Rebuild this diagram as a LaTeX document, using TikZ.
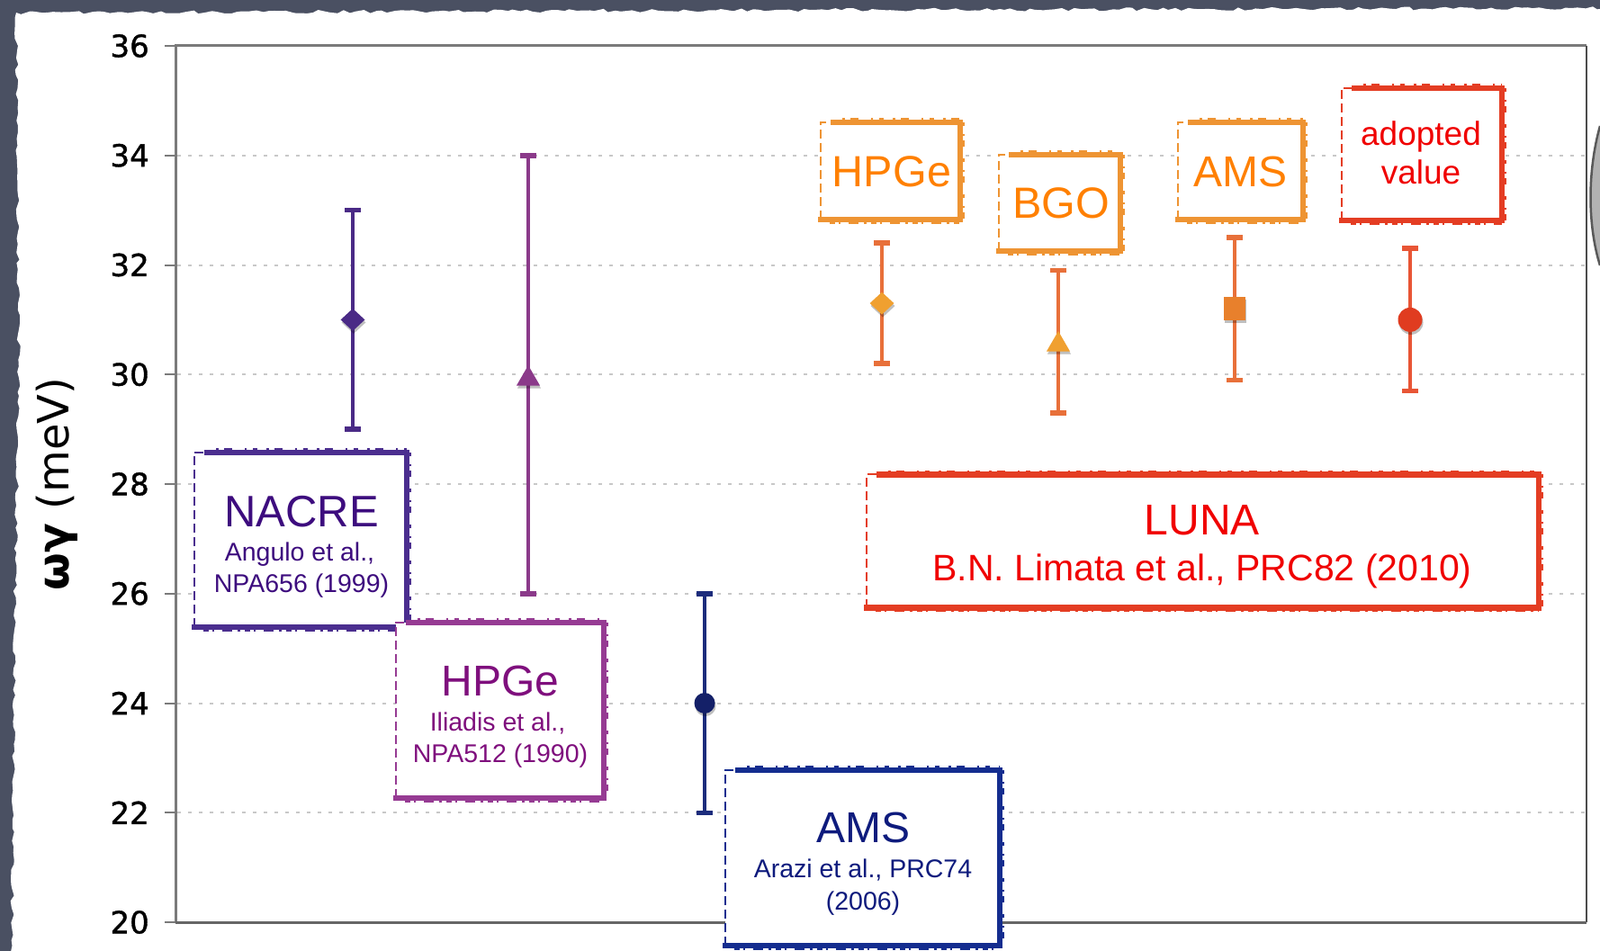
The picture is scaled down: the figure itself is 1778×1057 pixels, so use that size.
\documentclass[tikz,border=0pt]{standalone}
\usepackage{fontspec}
\setmainfont{Liberation Sans}
\newfontfamily\dvs{DejaVu Sans}
\newfontfamily\dvsm[FakeBold=1.2]{DejaVu Sans}
\usetikzlibrary{shapes.geometric,shadows,decorations.pathmorphing}
\definecolor{slate}{HTML}{4A5062}
\definecolor{frameC}{HTML}{7A7A7A}
\definecolor{gridC}{HTML}{C8C8C8}
\definecolor{nacreBox}{HTML}{4B2E8F}
\definecolor{nacreTxt}{HTML}{3D0C7E}
\definecolor{nacreBar}{HTML}{4A2A86}
\definecolor{ilBox}{HTML}{963B93}
\definecolor{ilTxt}{HTML}{7F0F7D}
\definecolor{ilBar}{HTML}{8B3A8A}
\definecolor{azBox}{HTML}{142D8F}
\definecolor{azTxt}{HTML}{0E1B7D}
\definecolor{azBar}{HTML}{1C2C7C}
\definecolor{azMk}{HTML}{142068}
\definecolor{orBox}{HTML}{EE9433}
\definecolor{orTxt}{HTML}{FF8000}
\definecolor{orBar}{HTML}{E8703A}
\definecolor{orMk}{HTML}{F0A030}
\definecolor{orSq}{HTML}{E8802C}
\definecolor{rdBox}{HTML}{E43D23}
\definecolor{rdTxt}{HTML}{F00000}
\definecolor{rdBar}{HTML}{E85535}
\definecolor{rdMk}{HTML}{E03C20}
\newcommand\rbox[2]{%
  \draw[#2, line width=6.5pt, line cap=rect] ([xshift=14pt]#1.north west) -- (#1.north east) -- (#1.south east) -- (#1.south west);
  \draw[#2, line width=2pt, dash pattern=on 10pt off 5pt] (#1.south west) -- (#1.north west) -- ([xshift=14pt]#1.north west);
  \draw[#2, line width=1.5pt, dash pattern=on 3pt off 6pt on 9pt off 14pt on 2pt off 7pt on 5pt off 10pt]
    ([yshift=4pt,xshift=24pt]#1.north west) -- ([yshift=4pt]#1.north east);
  \draw[#2, line width=1.5pt, dash pattern=on 4pt off 9pt on 2pt off 5pt on 7pt off 13pt]
    ([xshift=4pt]#1.north east) -- ([xshift=4pt]#1.south east);
  \draw[#2, line width=1.5pt, dash pattern=on 6pt off 4pt on 2pt off 9pt on 11pt off 6pt on 3pt off 5pt]
    ([yshift=-4pt,xshift=10pt]#1.south west) -- ([yshift=-4pt]#1.south east);
}
\begin{document}
\begin{tikzpicture}[x=1pt,y=-1pt,
  boxn/.style={rectangle, inner sep=0pt, fill=white},
  ebar/.style={line width=3.5pt},
  ecap/.style={line width=5.5pt},
  mk/.style={inner sep=0pt, drop shadow={shadow xshift=1pt, shadow yshift=-3pt, fill=black, opacity=0.25}},
  txt/.style={anchor=base, inner sep=0pt}]
\useasboundingbox (0,0) rectangle (1778,1057);
% background and paper
\fill[slate] (0,0) rectangle (1778,1057);
\fill[white, decorate, decoration={random steps, segment length=7pt, amplitude=2pt}]
  (1800,1080) -- (13,1080) -- (16,700) -- (21,420) -- (18,14) -- (900,11) -- (1800,9) -- cycle;
\fill[black!30] (1778,140) .. controls (1764,190) and (1764,250) .. (1778,295) -- cycle;
\draw[black!65, line width=2.5pt] (1778,140) .. controls (1764,190) and (1764,250) .. (1778,295);
% grid
\foreach \v in {22,24,...,34}{
  \pgfmathsetmacro\yy{51+(36-\v)*60.875}
  \draw[gridC, line width=2pt, dash pattern=on 4pt off 8pt] (197,\yy) -- (1761,\yy);
}
% frame
\draw[frameC, line width=3pt] (195,1025) -- (195,51) -- (1763,51);
\draw[black!70, line width=2.5pt] (1763,51) -- (1763,1025);
\draw[black!60, line width=3pt] (195,1025) -- (1763,1025);
% ticks and labels
\foreach \v in {20,22,...,36}{
  \pgfmathsetmacro\yy{51+(36-\v)*60.875}
  \draw[frameC, line width=2pt] (183,\yy) -- (195,\yy);
  \node[anchor=east, inner sep=0pt, font=\dvsm\fontsize{34}{40}\selectfont] (t\v) at (166,\yy) {\v};
}
\node[rotate=90, inner sep=0pt, font=\dvs\fontsize{48}{58}\selectfont] (ylab) at (63,538) {{\bfseries ωγ} (meV)};
% error bars
% NACRE
\draw[nacreBar, ebar] (392,233.6) -- (392,477.1);
\draw[nacreBar, ecap] (383,233.6) -- (401,233.6);
\draw[nacreBar, ecap] (383,477.1) -- (401,477.1);
\node[mk, diamond, fill=nacreBar, minimum width=27pt, minimum height=25pt] (m1) at (392,355.4) {};
% Iliadis
\draw[ilBar, ebar] (587,172.75) -- (587,659.75);
\draw[ilBar, ecap] (578,172.75) -- (596,172.75);
\draw[ilBar, ecap] (578,659.75) -- (596,659.75);
\node[mk, regular polygon, regular polygon sides=3, fill=ilBar, minimum size=30pt] (m2) at (587,421) {};
% Arazi
\draw[azBar, ebar] (783,659.75) -- (783,903.25);
\draw[azBar, ecap] (774,659.75) -- (792,659.75);
\draw[azBar, ecap] (774,903.25) -- (792,903.25);
\node[mk, circle, fill=azMk, minimum size=23pt] (m3) at (783,781.5) {};
% LUNA HPGe
\draw[orBar, ebar] (980,270.2) -- (980,404.1);
\draw[orBar, ecap] (971,270.2) -- (989,270.2);
\draw[orBar, ecap] (971,404.1) -- (989,404.1);
\node[mk, diamond, fill=orMk, minimum width=27pt, minimum height=25pt] (m4) at (980,337.1) {};
% BGO
\draw[orBar, ebar] (1176,300.6) -- (1176,458.9);
\draw[orBar, ecap] (1167,300.6) -- (1185,300.6);
\draw[orBar, ecap] (1167,458.9) -- (1185,458.9);
\node[mk, regular polygon, regular polygon sides=3, fill=orMk, minimum size=30pt] (m5) at (1176,383) {};
% AMS LUNA
\draw[orBar, ebar] (1372,264.1) -- (1372,422.3);
\draw[orBar, ecap] (1363,264.1) -- (1381,264.1);
\draw[orBar, ecap] (1363,422.3) -- (1381,422.3);
\node[mk, rectangle, fill=orSq, minimum width=24pt, minimum height=26pt] (m6) at (1372,343.2) {};
% adopted
\draw[rdBar, ebar] (1567,276.2) -- (1567,434.5);
\draw[rdBar, ecap] (1558,276.2) -- (1576,276.2);
\draw[rdBar, ecap] (1558,434.5) -- (1576,434.5);
\node[mk, circle, fill=rdMk, minimum size=27pt] (m7) at (1567,355.4) {};
% boxes
\node[boxn, minimum width=236pt, minimum height=194pt] (nacre) at (334,600) {};
\rbox{nacre}{nacreBox}
\node[txt, text=nacreTxt, font=\fontsize{49}{56}\selectfont] (nacreT) at (335,585) {NACRE};
\node[txt, text=nacreTxt, font=\fontsize{28.5}{34}\selectfont] (nacreA) at (333,623) {Angulo et al.,};
\node[txt, text=nacreTxt, font=\fontsize{28.5}{34}\selectfont] (nacreB) at (335,658) {NPA656 (1999)};

\node[boxn, minimum width=231pt, minimum height=195pt] (ilia) at (555.5,789.5) {};
\rbox{ilia}{ilBox}
\node[txt, text=ilTxt, font=\fontsize{48}{56}\selectfont] (iliaT) at (556,773) {HPGe};
\node[txt, text=ilTxt, font=\fontsize{28.5}{34}\selectfont] (iliaA) at (553,812.5) {Iliadis et al.,};
\node[txt, text=ilTxt, font=\fontsize{28.5}{34}\selectfont] (iliaB) at (556,847.5) {NPA512 (1990)};

\node[boxn, minimum width=305pt, minimum height=195pt] (arazi) at (958.5,953.5) {};
\rbox{arazi}{azBox}
\node[txt, text=azTxt, font=\fontsize{48}{56}\selectfont] (araziT) at (959,936) {AMS};
\node[txt, text=azTxt, font=\fontsize{28.5}{34}\selectfont] (araziA) at (959,975) {Arazi et al., PRC74};
\node[txt, text=azTxt, font=\fontsize{28.5}{34}\selectfont] (araziB) at (959,1011) {(2006)};

\node[boxn, minimum width=747pt, minimum height=148pt] (luna) at (1336.5,601.5) {};
\rbox{luna}{rdBox}
\node[txt, text=rdTxt, font=\fontsize{48}{56}\selectfont] (lunaT) at (1336,594) {LUNA};
\node[txt, text=rdTxt, font=\fontsize{41}{48}\selectfont] (lunaA) at (1336,645.5) {B.N. Limata et al., PRC82 (2010)};

\node[boxn, minimum width=155pt, minimum height=108pt] (ohp) at (989.5,190) {};
\rbox{ohp}{orBox}
\node[txt, text=orTxt, font=\fontsize{48.5}{56}\selectfont] (ohpT) at (991,207) {HPGe};

\node[boxn, minimum width=135pt, minimum height=107pt] (obgo) at (1177.5,225.5) {};
\rbox{obgo}{orBox}
\node[txt, text=orTxt, font=\fontsize{48.5}{56}\selectfont] (obgoT) at (1179,242) {BGO};

\node[boxn, minimum width=139pt, minimum height=108pt] (oams) at (1378.5,190) {};
\rbox{oams}{orBox}
\node[txt, text=orTxt, font=\fontsize{48}{56}\selectfont] (oamsT) at (1378,207) {AMS};

\node[boxn, minimum width=178pt, minimum height=147pt] (adopt) at (1580,171.5) {};
\rbox{adopt}{rdBox}
\node[txt, text=rdTxt, font=\fontsize{37}{44}\selectfont] (adoptA) at (1579,161.5) {adopted};
\node[txt, text=rdTxt, font=\fontsize{37}{44}\selectfont] (adoptB) at (1579,204) {value};
\end{tikzpicture}
\end{document}
